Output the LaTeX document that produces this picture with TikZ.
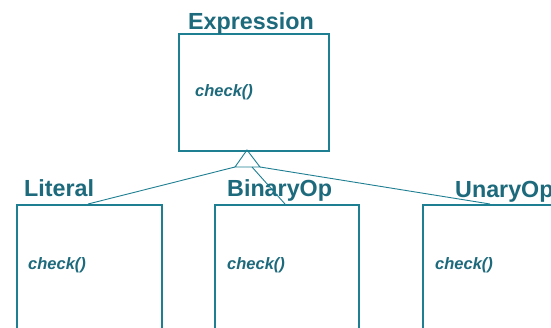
\documentclass[tikz,border=0pt]{standalone}
\usepackage{fontspec}
\setmainfont{Liberation Sans}
\usetikzlibrary{calc}
\definecolor{umlline}{HTML}{1F7F92}
\definecolor{umltext}{HTML}{1D6A7C}
\tikzset{
  classbox/.style={draw=umlline, line width=1.6pt, fill=white, anchor=north west, inner sep=0pt},
  classname/.style={anchor=base west, inner sep=0pt, text=umltext,
    font=\fontsize{23.3}{26}\selectfont\bfseries},
  method/.style={anchor=base west, inner sep=0pt, text=umltext,
    font=\fontsize{16.5}{19}\selectfont\bfseries\itshape},
  connector/.style={draw=umlline, line width=0.9pt}
}
\begin{document}
\begin{tikzpicture}[x=1pt, y=-1pt]
  \useasboundingbox (0,0) rectangle (551,328);
  \fill[white] (0,0) rectangle (551,328);
  \clip (0,0) rectangle (551,328);

  % class boxes
  \node[classbox, minimum width=150pt, minimum height=117pt] (expr) at (178,33) {};
  \node[classbox, minimum width=145pt, minimum height=130pt] (lit) at (16,204) {};
  \node[classbox, minimum width=144pt, minimum height=130pt] (bin) at (214,204) {};
  \node[classbox, minimum width=145pt, minimum height=130pt] (un) at (422,204) {};

  % class names
  \node[classname] (exprname) at (188,30) {Expression};
  \node[classname] (litname) at (24,197) {Literal};
  \node[classname] (binname) at (227,197) {BinaryOp};
  \node[classname] (unname) at (455,198) {UnaryOp};

  % operations
  \node[method] (exprop) at (195,97) {check()};
  \node[method] (litop) at (28,270) {check()};
  \node[method] (binop) at (227,270) {check()};
  \node[method] (unop) at (435,270) {check()};

  % generalization triangle
  \coordinate (apex) at (247,150);
  \coordinate (tl) at (235,167);
  \coordinate (tr) at (260,167);
  \coordinate (tm) at (252,167);
  \draw[connector] (apex) -- (tl) -- (tr) -- cycle;

  % joints on the subclass boxes
  \coordinate (litjoin) at ($(lit.north west)+(72,0)$);
  \coordinate (binjoin) at ($(bin.north west)+(71,0)$);
  \coordinate (unjoin) at ($(un.north west)+(68,0)$);

  \draw[connector] (tl) -- (litjoin);
  \draw[connector] (tm) -- (binjoin);
  \draw[connector] (tr) -- (unjoin);
\end{tikzpicture}
\end{document}
